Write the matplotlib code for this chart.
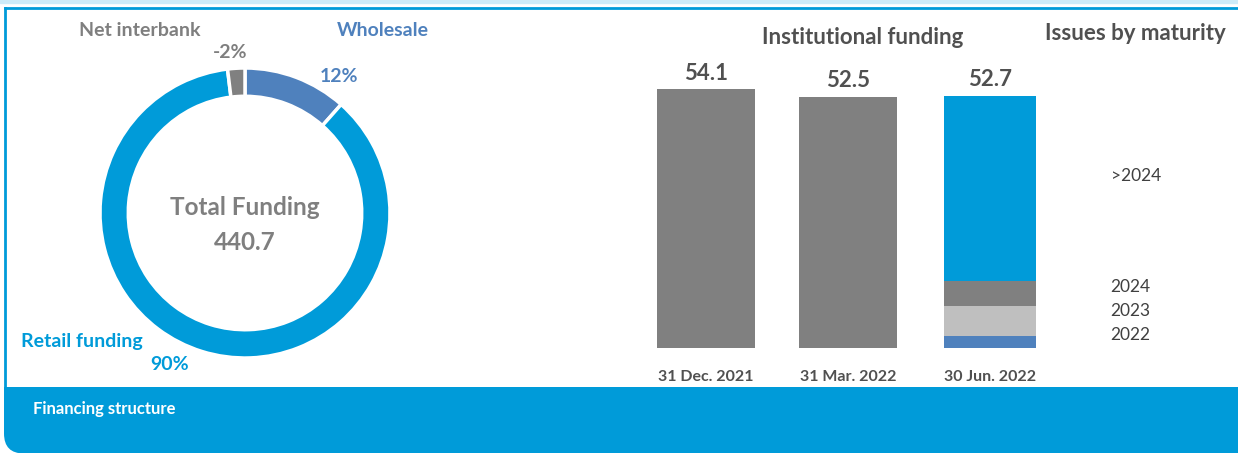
import matplotlib.pyplot as plt
from matplotlib.patches import FancyBboxPatch, Rectangle
from matplotlib.lines import Line2D
from matplotlib.transforms import Affine2D

plt.rcParams['font.family'] = ['Lato', 'DejaVu Sans']

# Donut data (share of total funding, %)
donut_labels = ['Wholesale', 'Retail funding', 'Net interbank']
donut_pct = [12, 90, -2]
total_funding = 440.7

# Institutional funding (bn)
periods = ['31 Dec. 2021', '31 Mar. 2022', '30 Jun. 2022']
totals = [54.1, 52.5, 52.7]
maturity_labels = ['2022', '2023', '2024', '>2024']
maturity_values = [2.6, 6.1, 5.4, 38.6]

BLUE = '#009BD9'
DARK_BLUE = '#4F81BD'
GREY = '#808080'
LIGHT_GREY = '#BFBFBF'
TEXT_GREY = '#7F7F7F'
DARK_TEXT = '#505050'

W, H = 1238, 453
fig = plt.figure(figsize=(W / 100, H / 100), dpi=100)


def fx(px):
    return px / W


def fy(py):
    return 1 - py / H


# pixel coords, origin top-left
pix = Affine2D().scale(1, -1).translate(0, H)

# frame and footer band
fig.patches.append(Rectangle((0, 0), W, 3, transform=pix,
                             color='#CDEBF8', zorder=-2))
fig.lines.append(Line2D([5, W], [8, 8], transform=pix,
                        color=BLUE, linewidth=2, zorder=-2))
fig.lines.append(Line2D([5, 5], [8, 390], transform=pix,
                        color=BLUE, linewidth=2, zorder=-2))
fig.patches.append(FancyBboxPatch((4, 387), W + 40, 66.5,
                                  boxstyle='round,pad=0,rounding_size=20',
                                  transform=pix, facecolor=BLUE,
                                  edgecolor='none', zorder=-2))
fig.patches.append(Rectangle((4, 387), 40, 30, transform=pix,
                             facecolor=BLUE, edgecolor='none', zorder=-2))
fig.text(fx(33), fy(409), 'Financing structure', color='white', fontsize=12,
         fontweight='bold', va='center', ha='left')

# donut
cx, cy, r = 245, 213, 145
ax1 = fig.add_axes([fx(cx - r), fy(cy + r), 2 * r / W, 2 * r / H])
sizes = [abs(v) for v in donut_pct]
ax1.pie(sizes, colors=[DARK_BLUE, BLUE, GREY], startangle=90, counterclock=False,
        radius=1, wedgeprops=dict(width=0.195, edgecolor='white', linewidth=2.5))
ax1.set_xlim(-1, 1)
ax1.set_ylim(-1, 1)
ax1.set_aspect('equal')
ax1.axis('off')
ax1.text(0, 0.04, 'Total Funding', ha='center', va='center', fontsize=17.5,
         fontweight='bold', color=TEXT_GREY)
ax1.text(0, -0.2, f'{total_funding}', ha='center', va='center', fontsize=17.5,
         fontweight='bold', color=TEXT_GREY)

lab_fs = 14
fig.text(fx(140), fy(30), donut_labels[2], color=TEXT_GREY, fontsize=lab_fs,
         fontweight='bold', ha='center', va='center')
fig.text(fx(230), fy(52), f'{donut_pct[2]}%', color=TEXT_GREY, fontsize=lab_fs,
         fontweight='bold', ha='center', va='center')
fig.text(fx(383), fy(30), donut_labels[0], color=DARK_BLUE, fontsize=lab_fs,
         fontweight='bold', ha='center', va='center')
fig.text(fx(339), fy(76), f'{donut_pct[0]}%', color=DARK_BLUE, fontsize=lab_fs,
         fontweight='bold', ha='center', va='center')
fig.text(fx(82), fy(341), donut_labels[1], color=BLUE, fontsize=lab_fs,
         fontweight='bold', ha='center', va='center')
fig.text(fx(170), fy(364), f'{donut_pct[1]}%', color=BLUE, fontsize=lab_fs,
         fontweight='bold', ha='center', va='center')

# institutional funding bars
px_per_unit = 4.78
ymax = 60
bottom_px = 348
left_px, right_px = 635, 1061
ax2 = fig.add_axes([fx(left_px), fy(bottom_px), (right_px - left_px) / W,
                    ymax * px_per_unit / H])
ax2.set_xlim(-0.5, 2.5)
ax2.set_ylim(0, ymax)
ax2.axis('off')

x = [0, 1, 2]
ax2.bar(x[:2], totals[:2], width=0.69, color=GREY)
stack_colors = [DARK_BLUE, LIGHT_GREY, GREY, BLUE]
base = 0
label_offsets = [5, 7, 5, 9]
for val, col, lab, off in zip(maturity_values, stack_colors, maturity_labels, label_offsets):
    ax2.bar(x[2], val, bottom=base, width=0.65, color=col)
    ax2.annotate(lab, (2.85, base + val / 2), xytext=(0, off), textcoords='offset points',
                 ha='left', va='center', fontsize=12.5, color='#404040',
                 annotation_clip=False)
    base += val

for xi, t in zip(x, totals):
    ax2.text(xi, t + 1.2, f'{t}', ha='center', va='bottom', fontsize=16,
             fontweight='bold', color=DARK_TEXT)
for xi, p in zip(x, periods):
    ax2.text(xi, -4.6, p, ha='center', va='top', fontsize=11.5, fontweight='bold',
             color=DARK_TEXT)

fig.text(fx(863), fy(38), 'Institutional funding', ha='center', va='center',
         fontsize=16, fontweight='bold', color=DARK_TEXT)
fig.text(fx(1135), fy(34), 'Issues by maturity', ha='center', va='center',
         fontsize=16, fontweight='bold', color=DARK_TEXT)

fig.savefig('out.png', dpi=100)
